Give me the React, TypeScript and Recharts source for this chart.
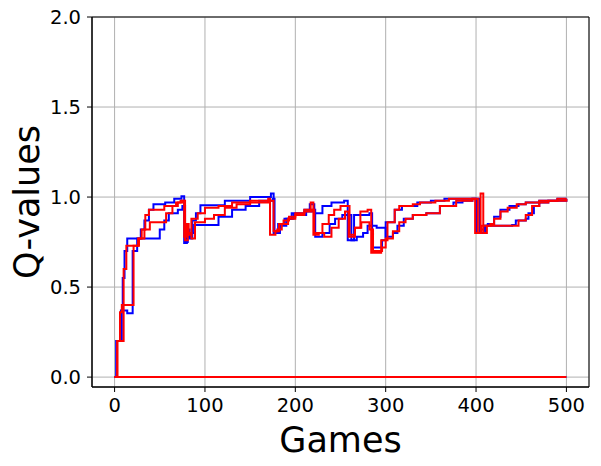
import React from "react";
import { LineChart, Line, XAxis, YAxis, CartesianGrid, ReferenceArea, Label } from "recharts";

// games (x) and Q-value (y) for each curve
const blueAGames = [0, 2, 7, 9, 11, 14, 29, 33, 38, 43, 56, 66, 74, 77, 80, 83, 86, 90, 95, 122, 150, 173, 176, 181, 188, 196, 210, 216, 221, 230, 240, 254, 258, 265, 282, 285, 296, 300, 310, 318, 335, 350, 365, 398, 400, 405, 409, 413, 420, 427, 437, 447, 455, 470, 490, 500];
const blueAValues = [0, 0.2, 0.37, 0.55, 0.7, 0.77, 0.82, 0.87, 0.93, 0.96, 0.97, 0.99, 1.005, 0.745, 0.82, 0.77, 0.87, 0.91, 0.955, 0.98, 1.0, 1.02, 0.8, 0.85, 0.88, 0.91, 0.93, 0.96, 0.91, 0.95, 0.97, 0.98, 0.76, 0.9, 0.91, 0.72, 0.76, 0.86, 0.93, 0.95, 0.97, 0.98, 0.99, 0.99, 0.8, 0.82, 0.84, 0.85, 0.89, 0.93, 0.95, 0.96, 0.97, 0.98, 0.99, 0.99];

const blueBGames = [0, 2, 8, 14, 20, 25, 50, 55, 60, 70, 75, 78, 81, 84, 88, 115, 130, 145, 160, 175, 177, 183, 190, 198, 212, 219, 222, 230, 238, 244, 252, 258, 262, 268, 275, 280, 290, 300, 308, 313, 320, 330, 345, 360, 375, 385, 396, 404, 410, 440, 444, 455, 458, 464, 470, 480, 500];
const blueBValues = [0, 0.2, 0.37, 0.355, 0.7, 0.77, 0.82, 0.87, 0.91, 0.93, 0.95, 0.75, 0.78, 0.8, 0.845, 0.89, 0.93, 0.95, 0.98, 0.99, 0.8, 0.84, 0.88, 0.9, 0.92, 0.93, 0.78, 0.8, 0.85, 0.88, 0.9, 0.9, 0.76, 0.78, 0.8, 0.84, 0.83, 0.78, 0.8, 0.84, 0.88, 0.9, 0.91, 0.95, 0.97, 0.98, 0.99, 0.8, 0.84, 0.845, 0.87, 0.88, 0.91, 0.95, 0.97, 0.98, 0.99];

const redAGames = [0, 3, 6, 8, 10, 13, 26, 30, 34, 38, 55, 68, 73, 77, 80, 82, 85, 92, 100, 115, 130, 150, 170, 172, 178, 182, 187, 193, 200, 210, 217, 220, 226, 230, 237, 243, 250, 258, 260, 266, 272, 280, 284, 295, 302, 310, 315, 330, 338, 355, 370, 398, 399, 405, 408, 412, 416, 420, 427, 435, 445, 455, 470, 490, 500];
const redAValues = [0, 0.2, 0.36, 0.4, 0.6, 0.73, 0.77, 0.82, 0.9, 0.93, 0.95, 0.97, 0.98, 0.78, 0.85, 0.79, 0.88, 0.91, 0.94, 0.95, 0.97, 0.98, 0.99, 0.79, 0.81, 0.85, 0.87, 0.89, 0.91, 0.93, 0.97, 0.79, 0.8, 0.85, 0.9, 0.93, 0.95, 0.95, 0.79, 0.83, 0.92, 0.93, 0.69, 0.76, 0.86, 0.93, 0.95, 0.96, 0.97, 0.98, 0.99, 0.99, 0.8, 1.02, 0.8, 0.84, 0.85, 0.88, 0.92, 0.94, 0.96, 0.97, 0.98, 0.99, 0.99];

const redBGames = [0, 3, 10, 20, 21, 27, 33, 39, 57, 64, 70, 75, 78, 81, 85, 89, 100, 110, 122, 135, 150, 170, 176, 180, 185, 192, 200, 210, 218, 221, 232, 240, 248, 255, 259, 266, 273, 282, 286, 296, 300, 308, 315, 322, 330, 345, 360, 378, 396, 400, 402, 406, 444, 447, 455, 462, 470, 480, 500];
const redBValues = [0, 0.2, 0.4, 0.4, 0.73, 0.77, 0.82, 0.86, 0.91, 0.95, 0.97, 0.98, 0.76, 0.8, 0.77, 0.86, 0.88, 0.9, 0.94, 0.96, 0.97, 0.98, 0.81, 0.82, 0.85, 0.88, 0.9, 0.92, 0.93, 0.8, 0.78, 0.83, 0.88, 0.92, 0.78, 0.83, 0.86, 0.82, 0.7, 0.72, 0.77, 0.81, 0.86, 0.88, 0.9, 0.91, 0.95, 0.98, 0.99, 0.99, 0.8, 0.84, 0.84, 0.87, 0.9, 0.95, 0.97, 0.98, 0.99];

const zeroGames = [0, 500];
const zeroValues = [0, 0];

const xTicks = [0, 100, 200, 300, 400, 500];
const yTicks = [0, 0.5, 1.0, 1.5, 2.0];

const toPoints = (xs: number[], ys: number[]) => xs.map((x, i) => ({ x, y: ys[i] }));

const series = [
  { id: "blueZero", color: "#0000ff", data: toPoints(zeroGames, zeroValues) },
  { id: "blueA", color: "#0000ff", data: toPoints(blueAGames, blueAValues) },
  { id: "blueB", color: "#0000ff", data: toPoints(blueBGames, blueBValues) },
  { id: "redZero", color: "#ff0000", data: toPoints(zeroGames, zeroValues) },
  { id: "redA", color: "#ff0000", data: toPoints(redAGames, redAValues) },
  { id: "redB", color: "#ff0000", data: toPoints(redBGames, redBValues) },
];

const font = "DejaVu Sans";
const tickStyle = { fontSize: 19.5, fill: "#000", fontFamily: font };

export default function App() {
  return (
    <div style={{ position: "absolute", left: 0, top: 0, background: "#fff" }}>
      <LineChart width={601} height={466} margin={{ top: 17, right: 12, bottom: 0, left: 0 }}>
        <CartesianGrid stroke="#b0b0b0" strokeWidth={1} />
        <XAxis
          type="number"
          dataKey="x"
          domain={[-25, 525]}
          ticks={xTicks}
          allowDataOverflow
          height={79}
          tickSize={5}
          tickMargin={6}
          tick={tickStyle}
          stroke="#000"
          tickLine={{ stroke: "#000" }}
        >
          <Label value="Games" position="insideBottom" offset={14} style={{ fontSize: 35, fill: "#000", fontFamily: font }} />
        </XAxis>
        <YAxis
          type="number"
          domain={[-0.055, 2.0]}
          ticks={yTicks}
          allowDataOverflow
          width={92}
          tickSize={5}
          tickMargin={6}
          tick={tickStyle}
          tickFormatter={(v: number) => v.toFixed(1)}
          stroke="#000"
          tickLine={{ stroke: "#000" }}
        >
          <Label
            value="Q-values"
            angle={-90}
            position="insideLeft"
            offset={27}
            style={{ fontSize: 35, fill: "#000", fontFamily: font, textAnchor: "middle" }}
          />
        </YAxis>
        {series.map((s) => (
          <Line
            key={s.id}
            data={s.data}
            dataKey="y"
            type="stepAfter"
            stroke={s.color}
            strokeWidth={2}
            dot={false}
            activeDot={false}
            isAnimationActive={false}
          />
        ))}
        <ReferenceArea x1={-25} x2={525} y1={-0.055} y2={2.0} fill="none" stroke="#000" strokeWidth={1} ifOverflow="visible" />
      </LineChart>
    </div>
  );
}
